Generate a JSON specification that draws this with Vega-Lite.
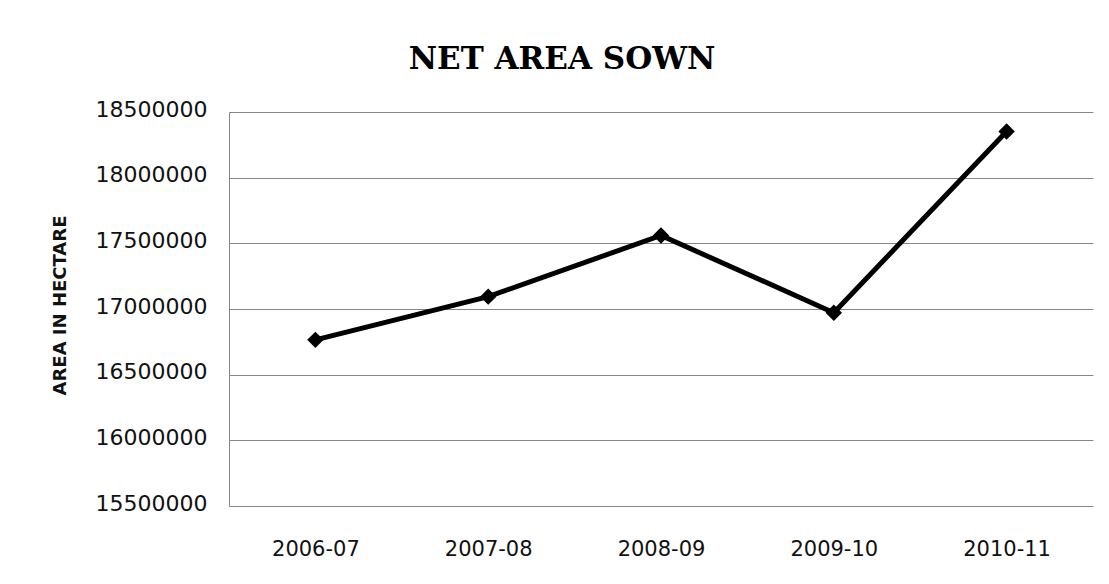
{
  "$schema": "https://vega.github.io/schema/vega-lite/v6.json",
  "autosize": "none",
  "width": 864,
  "height": 394,
  "padding": {"left": 229, "top": 112, "right": 16, "bottom": 78},
  "background": "white",
  "data": {
    "values": [
      {"year": "2006-07", "area": 16765000},
      {"year": "2007-08", "area": 17094000},
      {"year": "2008-09", "area": 17560000},
      {"year": "2009-10", "area": 16972000},
      {"year": "2010-11", "area": 18352000}
    ]
  },
  "title": {
    "text": "NET AREA SOWN",
    "font": "DejaVu Serif",
    "fontWeight": "bold",
    "fontSize": 31,
    "color": "black",
    "anchor": "middle",
    "frame": "group",
    "dx": -99,
    "offset": 22
  },
  "encoding": {
    "x": {
      "field": "year",
      "type": "ordinal",
      "sort": null,
      "scale": {"paddingInner": 0, "paddingOuter": 0},
      "axis": {
        "title": null,
        "labelAngle": 0,
        "labelFont": "DejaVu Sans",
        "labelFontSize": 21,
        "labelColor": "#111",
        "labelBaseline": "middle",
        "labelPadding": 43,
        "ticks": false,
        "domain": false,
        "grid": false
      }
    },
    "y": {
      "field": "area",
      "type": "quantitative",
      "scale": {"domain": [15500000, 18500000], "zero": false, "nice": false},
      "axis": {
        "title": "AREA IN HECTARE",
        "titleFont": "DejaVu Sans",
        "titleFontWeight": "bold",
        "titleFontSize": 18,
        "titleColor": "#111",
        "titleAngle": -90,
        "titleX": -169,
        "titleY": 193,
        "titleAlign": "center",
        "titleBaseline": "middle",
        "values": [15500000, 16000000, 16500000, 17000000, 17500000, 18000000, 18500000],
        "format": "d",
        "labelFont": "DejaVu Sans",
        "labelFontSize": 22,
        "labelColor": "#111",
        "labelPadding": 22,
        "labelOffset": -3,
        "ticks": false,
        "domain": true,
        "domainColor": "#868686",
        "domainWidth": 1,
        "grid": true,
        "gridColor": "#868686",
        "gridWidth": 1
      }
    }
  },
  "layer": [
    {"mark": {"type": "line", "color": "black", "strokeWidth": 5}},
    {"mark": {"type": "point", "shape": "diamond", "filled": true, "color": "black", "opacity": 1, "size": 270}}
  ],
  "config": {"view": {"stroke": null}}
}
